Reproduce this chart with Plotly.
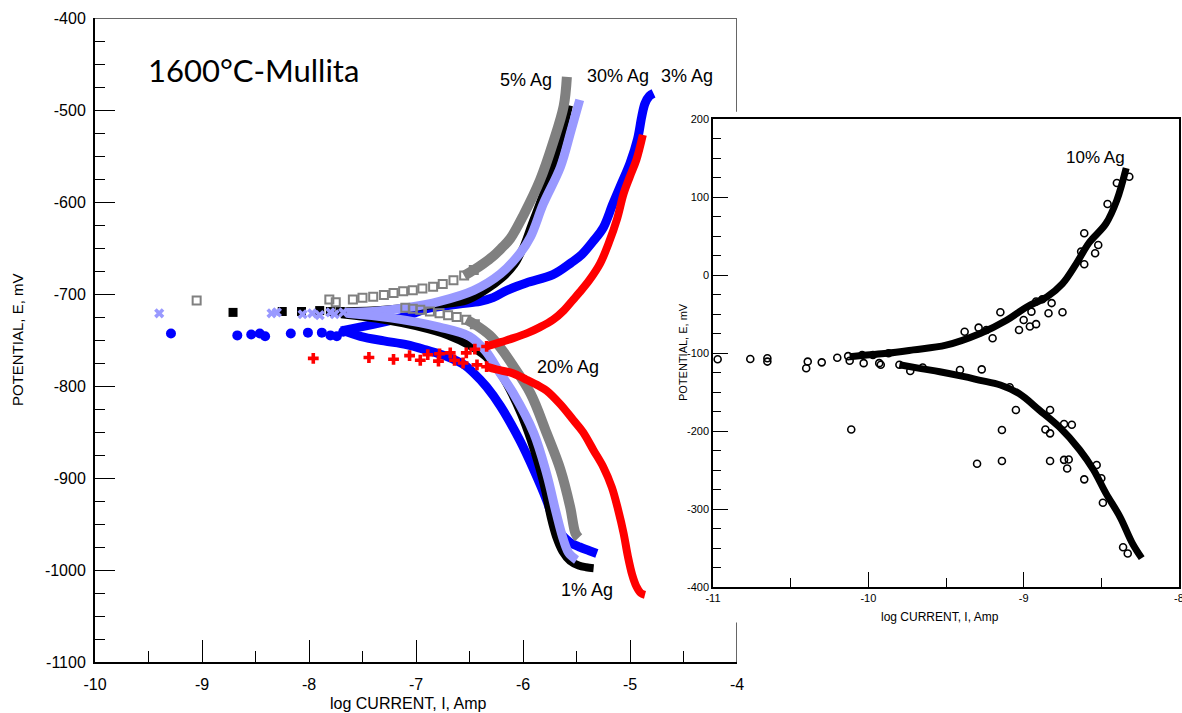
import plotly.graph_objects as go

# ---------------- main chart data ----------------
# 1% Ag (black, filled squares)
ag1_pts_x = [-8.71, -8.25, -8.07, -7.90, -7.80, -7.71]
ag1_pts_y = [-720, -719, -719, -718, -719, -719]
ag1_an_x = [-7.70, -7.30, -7.00, -6.75, -6.53, -6.34, -6.20, -6.08, -6.00, -5.92, -5.81, -5.72, -5.65, -5.60, -5.57]
ag1_an_y = [-719, -717, -714, -711, -707, -695, -683, -668, -650, -625, -591, -560, -532, -510, -495]
ag1_ca_x = [-7.70, -7.30, -7.00, -6.70, -6.50, -6.35, -6.22, -6.12, -6.02, -5.93, -5.85, -5.79, -5.74, -5.69, -5.63, -5.56, -5.48, -5.41, -5.34]
ag1_ca_y = [-722, -728, -735, -745, -756, -768, -785, -805, -830, -858, -888, -915, -943, -964, -980, -990, -995, -997, -998]

# 30% Ag (lavender, x markers)
ag30_pts_x = [-9.40, -8.35, -8.30, -8.06, -7.97, -7.90, -7.80, -7.76, -7.68]
ag30_pts_y = [-721, -721, -720, -722, -721, -723, -720, -722, -720]
ag30_an_x = [-7.65, -7.40, -7.09, -6.78, -6.46, -6.21, -6.03, -5.93, -5.81, -5.65, -5.55, -5.47]
ag30_an_y = [-720, -719, -715, -708, -696, -678, -656, -638, -602, -562, -522, -489]
ag30_ca_x = [-7.65, -7.24, -6.78, -6.50, -6.35, -6.22, -6.09, -5.90, -5.78, -5.69, -5.62, -5.57, -5.50]
ag30_ca_y = [-721, -726, -736, -746, -762, -785, -808, -851, -895, -938, -968, -982, -989]

# 5% Ag (gray, open squares)
ag5_pts_x = [-9.05, -7.81, -7.75]
ag5_pts_y = [-707, -706, -709]
ag5_sq_an_x = [-7.59, -7.50, -7.40, -7.30, -7.21, -7.12, -7.03, -6.94, -6.84, -6.75, -6.65, -6.55, -6.46]
ag5_sq_an_y = [-706, -704, -703, -701, -699, -697, -696, -694, -692, -689, -685, -680, -674]
ag5_an_x = [-6.55, -6.46, -6.37, -6.28, -6.20, -6.12, -5.99, -5.84, -5.72, -5.62, -5.59]
ag5_an_y = [-680, -674, -667, -659, -650, -640, -613, -576, -536, -496, -464]
ag5_sq_ca_x = [-7.10, -7.03, -6.96, -6.87, -6.78, -6.70, -6.62, -6.53, -6.45]
ag5_sq_ca_y = [-715, -716, -717, -719, -721, -723, -725, -728, -733]
ag5_ca_x = [-6.53, -6.45, -6.31, -6.20, -6.11, -5.93, -5.78, -5.65, -5.56, -5.51, -5.48]
ag5_ca_y = [-728, -733, -745, -760, -775, -808, -851, -891, -931, -960, -965]

# 3% Ag (blue, filled circles)
ag3_pts_x = [-9.29, -8.67, -8.54, -8.46, -8.41, -8.17, -8.01, -7.88, -7.80, -7.74, -7.68]
ag3_pts_y = [-743, -745, -744, -743, -746, -743, -742, -742, -745, -746, -741]
ag3_an_x = [-7.70, -7.40, -7.09, -6.90, -6.60, -6.40, -6.28, -6.15, -5.97, -5.72, -5.55, -5.45, -5.34, -5.25, -5.16, -5.08, -5.00, -4.93, -4.89, -4.86, -4.82, -4.78]
ag3_an_y = [-740, -733, -724, -716, -711, -708, -704, -696, -688, -679, -666, -657, -642, -628, -602, -580, -558, -532, -507, -493, -485, -482]
ag3_ca_x = [-7.70, -7.52, -7.30, -7.09, -6.90, -6.71, -6.55, -6.46, -6.34, -6.21, -6.03, -5.90, -5.78, -5.69, -5.62, -5.56, -5.47, -5.38, -5.31]
ag3_ca_y = [-739, -746, -751, -755, -761, -768, -777, -786, -801, -822, -859, -891, -924, -953, -964, -970, -975, -979, -982]

# 20% Ag (red, plus markers)
ag20_pts_x = [-7.96, -7.44, -7.21, -7.06, -6.96, -6.89, -6.79, -6.78, -6.68, -6.64, -6.56, -6.53, -6.45, -6.43, -6.34, -6.34]
ag20_pts_y = [-770, -769, -771, -767, -772, -766, -773, -765, -764, -772, -775, -764, -760, -777, -779, -757]
ag20_an_x = [-6.34, -6.20, -6.09, -5.95, -5.84, -5.72, -5.62, -5.53, -5.47, -5.38, -5.28, -5.20, -5.12, -5.06, -5.00, -4.94, -4.88]
ag20_an_y = [-757, -752, -748, -742, -736, -728, -718, -706, -698, -685, -667, -645, -618, -591, -572, -554, -527]
ag20_ca_x = [-6.34, -6.25, -6.10, -5.97, -5.85, -5.78, -5.65, -5.53, -5.44, -5.34, -5.25, -5.17, -5.11, -5.06, -5.02, -4.98, -4.94, -4.90, -4.86]
ag20_ca_y = [-779, -782, -786, -793, -800, -805, -820, -837, -850, -870, -888, -910, -935, -960, -985, -1005, -1018, -1025, -1027]

# ---------------- inset (10% Ag) data ----------------
ag10_an_x = [-10.12, -10.01, -9.88, -9.71, -9.50, -9.28, -9.11, -8.98, -8.85, -8.75, -8.66, -8.58, -8.47, -8.40, -8.34]
ag10_an_y = [-104.7, -102.6, -100.4, -96, -90, -75, -58, -41, -28, -11, 15, 41, 66, 96, 137]
ag10_ca_x = [-9.80, -9.66, -9.54, -9.39, -9.28, -9.15, -9.03, -8.90, -8.77, -8.64, -8.55, -8.47, -8.38, -8.30, -8.24]
ag10_ca_y = [-115, -120, -124, -130, -135, -141, -152, -173, -195, -224, -250, -280, -310, -344, -363]
ag10_pts_x = [-11.08, -10.97, -10.76, -10.65, -10.65, -10.40, -10.39, -10.30, -10.20, -10.13, -10.12, -10.04, -10.03,
              -9.97, -9.93, -9.92, -9.87, -9.80, -9.73, -9.65,
              -10.11, -9.30, -9.14, -9.14, -8.83, -9.05,
              -9.15, -8.75, -9.38, -8.84, -8.92,
              -8.63, -8.61, -8.52, -8.54, -8.61, -8.46, -8.32, -8.40,
              -8.74, -8.71, -8.72, -8.61, -8.53, -8.50, -8.49, -8.36, -8.33,
              -8.86, -8.83, -8.74, -8.69, -8.83, -9.27, -9.41, -9.09,
              -9.24, -9.20, -9.29, -9.00, -9.03, -8.96, -8.95, -8.92, -8.88, -8.82]
ag10_pts_y = [-108, -108, -107.7, -106.8, -111, -119.6, -111, -112, -106, -104, -110, -102.6, -113,
              -102.6, -113, -115, -100.4, -115, -123, -118.6,
              -198, -242, -198.7, -238.5, -238.5, -173,
              -47.8, -47.8, -72.7, -49, -63,
              30, 53.5, 38.5, 27.8, 13.7, 91, 126, 118,
              -237, -236.5, -248, -262, -243.6, -260.6, -291.9, -349, -357,
              -198, -173, -191, -192, -203, -121, -121.8, -144,
              -70.5, -81, -67.5, -57.7, -70.5, -66, -47, -34, -31, -36]

# ---------------- ticks & labels ----------------
main_x_ticks = [-10, -9, -8, -7, -6, -5, -4]
main_y_ticks = [-1100, -1000, -900, -800, -700, -600, -500, -400]
inset_x_ticks = [-11, -10, -9, -8]
inset_y_ticks = [-400, -300, -200, -100, 0, 100, 200]

main_title = "1600°C-Mullita"
label_text = ["5% Ag", "30% Ag", "3% Ag", "20% Ag", "1% Ag"]
label_x = [-5.97, -5.11, -4.47, -5.58, -5.40]
label_y = [-467, -463, -463, -779, -1022]

GRAY = "#808080"
LAV = "#9999FF"
BLUE = "#0000FF"
RED = "#FF0000"
BLACK = "#000000"

fig = go.Figure()

def band(x, y, color, width, xa="x", ya="y"):
    fig.add_trace(go.Scatter(x=x, y=y, mode="lines", xaxis=xa, yaxis=ya,
                             line=dict(color=color, width=width, shape="spline", smoothing=1.0),
                             hoverinfo="skip", showlegend=False))

def pts(x, y, color, symbol, size, lw=0, xa="x", ya="y", clip=True):
    fig.add_trace(go.Scatter(x=x, y=y, mode="markers", xaxis=xa, yaxis=ya, cliponaxis=clip,
                             marker=dict(color=color, symbol=symbol, size=size,
                                         line=dict(color=color, width=lw)),
                             hoverinfo="skip", showlegend=False))

# blue 3%
band(ag3_an_x, ag3_an_y, BLUE, 9)
band(ag3_ca_x, ag3_ca_y, BLUE, 9)
pts(ag3_pts_x, ag3_pts_y, BLUE, "circle", 10)
# black 1%
band(ag1_an_x, ag1_an_y, BLACK, 8)
band(ag1_ca_x, ag1_ca_y, BLACK, 8)
pts(ag1_pts_x, ag1_pts_y, BLACK, "square", 9)
# lavender 30%
band(ag30_an_x, ag30_an_y, LAV, 9)
band(ag30_ca_x, ag30_ca_y, LAV, 9)
pts(ag30_pts_x, ag30_pts_y, LAV, "x", 9)
# gray 5%
band(ag5_an_x, ag5_an_y, GRAY, 10)
band(ag5_ca_x, ag5_ca_y, GRAY, 10)
pts(ag5_sq_an_x, ag5_sq_an_y, GRAY, "square-open", 8, 2)
pts(ag5_sq_ca_x, ag5_sq_ca_y, GRAY, "square-open", 8, 2)
pts(ag5_pts_x, ag5_pts_y, GRAY, "square-open", 8, 2)
# red 20%
band(ag20_an_x, ag20_an_y, RED, 8)
band(ag20_ca_x, ag20_ca_y, RED, 8)
pts(ag20_pts_x, ag20_pts_y, RED, "cross", 9)

# inset 10%
band(ag10_an_x, ag10_an_y, BLACK, 7, "x2", "y2")
band(ag10_ca_x, ag10_ca_y, BLACK, 7, "x2", "y2")
pts(ag10_pts_x, ag10_pts_y, BLACK, "circle-open", 7, 1.6, "x2", "y2", clip=False)

W, H = 1182, 713
def px(v): return v / W
def py(v): return 1 - v / H

def hy(vals):
    return [str(v) for v in vals]  # plain hyphen-minus labels

tickfont = dict(family="Liberation Sans, Arial, sans-serif", size=16, color="black")
smallfont = dict(family="Liberation Sans, Arial, sans-serif", size=11, color="black")

fig.update_layout(
    width=W, height=H, margin=dict(l=0, r=0, t=0, b=0),
    paper_bgcolor="white", plot_bgcolor="white", showlegend=False,
    xaxis=dict(domain=[px(95), px(737)], range=[-10, -4], anchor="y",
               tickmode="array", tickvals=main_x_ticks, ticktext=hy(main_x_ticks),
               ticks="inside", ticklen=22, tickwidth=1, tickcolor="black", ticklabelstandoff=7,
               minor=dict(dtick=0.5, ticks="inside", ticklen=11, tickwidth=1, tickcolor="black", showgrid=False),
               showline=True, linecolor="black", linewidth=2, mirror=False,
               showgrid=False, zeroline=False, tickfont=tickfont, automargin=False),
    yaxis=dict(domain=[py(662), py(18)], range=[-1100, -400], anchor="x",
               tickmode="array", tickvals=main_y_ticks, ticktext=hy(main_y_ticks),
               ticks="inside", ticklen=20, tickwidth=1, tickcolor="black", ticklabelstandoff=4,
               minor=dict(dtick=25, ticks="inside", ticklen=10, tickwidth=1, tickcolor="black", showgrid=False),
               showline=True, linecolor="black", linewidth=2, mirror=False,
               showgrid=False, zeroline=False, tickfont=tickfont, automargin=False),
    xaxis2=dict(domain=[px(713), px(1179)], range=[-11, -8], anchor="y2",
                tickmode="array", tickvals=inset_x_ticks, ticktext=hy(inset_x_ticks),
                ticks="inside", ticklen=15, tickwidth=1, tickcolor="black", ticklabeloverflow="allow",
                minor=dict(dtick=0.5, ticks="inside", ticklen=9, tickwidth=1, tickcolor="black", showgrid=False),
                showline=True, linecolor="black", linewidth=1.5, mirror=True,
                showgrid=False, zeroline=False, tickfont=smallfont, automargin=False),
    yaxis2=dict(domain=[py(587), py(119)], range=[-400, 200], anchor="x2",
                tickmode="array", tickvals=inset_y_ticks, ticktext=hy(inset_y_ticks),
                ticks="inside", ticklen=15, tickwidth=1, tickcolor="black",
                minor=dict(dtick=25, ticks="inside", ticklen=8, tickwidth=1, tickcolor="black", showgrid=False),
                showline=True, linecolor="black", linewidth=1.5, mirror=True,
                showgrid=False, zeroline=False, tickfont=smallfont, automargin=False),
)

# main frame top / right edges (partially hidden by inset)
fig.add_shape(type="line", xref="x", yref="y", x0=-10, x1=-4, y0=-400, y1=-400, line=dict(color="#666666", width=2))
fig.add_shape(type="line", xref="x", yref="y", x0=-4, x1=-4, y0=-400, y1=-502, line=dict(color="#666666", width=2))
fig.add_shape(type="line", xref="x", yref="y", x0=-4, x1=-4, y0=-1057, y1=-1100, line=dict(color="#666666", width=2))

labfont = "Liberation Sans, Arial, sans-serif"
for t, x, y in zip(label_text, label_x, label_y):
    fig.add_annotation(x=x, y=y, xref="x", yref="y", text=t, showarrow=False,
                       xanchor="center", yanchor="middle",
                       font=dict(family=labfont, size=18, color="black"))
fig.add_annotation(x=-8.54, y=151, xref="x2", yref="y2", text="10% Ag", showarrow=False,
                   xanchor="center", yanchor="middle",
                   font=dict(family=labfont, size=17, color="black"))
fig.add_annotation(x=-8.52, y=-456, xref="x", yref="y", text=main_title, showarrow=False,
                   xanchor="center", yanchor="middle",
                   font=dict(family="Lato, Open Sans, sans-serif", size=31, color="black"))

# axis titles
fig.add_annotation(x=px(408), y=py(703), xref="paper", yref="paper", text="log CURRENT, I, Amp",
                   xanchor="center", yanchor="middle", showarrow=False, font=tickfont)
fig.add_annotation(x=px(17), y=py(340), xref="paper", yref="paper", text="POTENTIAL, E, mV",
                   xanchor="center", yanchor="middle", textangle=-90, showarrow=False,
                   font=dict(family="Liberation Sans, Arial, sans-serif", size=15, color="black"))
fig.add_annotation(x=px(940), y=py(617), xref="paper", yref="paper", text="log CURRENT, I, Amp",
                   xanchor="center", yanchor="middle", showarrow=False,
                   font=dict(family="Liberation Sans, Arial, sans-serif", size=12, color="black"))
fig.add_annotation(x=px(683), y=py(352), xref="paper", yref="paper", text="POTENTIAL, E, mV",
                   xanchor="center", yanchor="middle", textangle=-90, showarrow=False, font=smallfont)

fig.write_html("out.html")
